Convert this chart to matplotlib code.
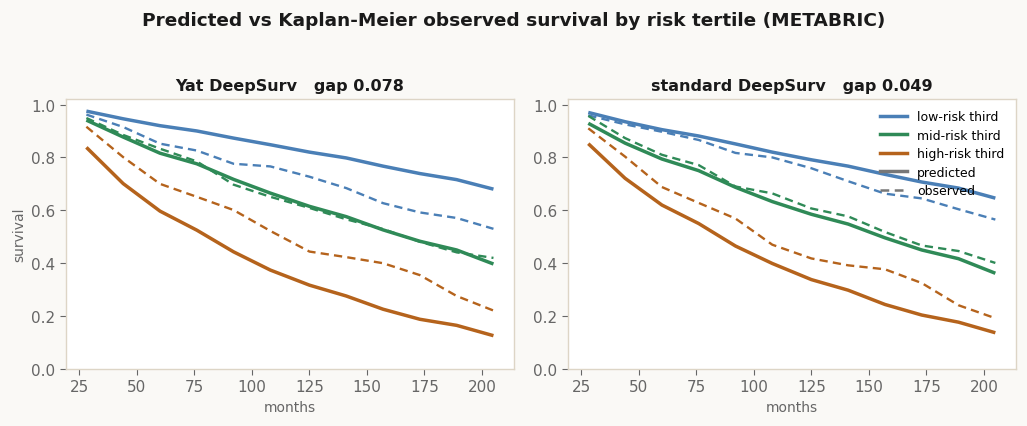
import matplotlib
matplotlib.use('Agg')
import matplotlib.pyplot as plt
from matplotlib.lines import Line2D

months = [28, 44, 60, 76, 92, 108, 125, 141, 157, 173, 189, 205]

# Yat DeepSurv
yat_low_pred = [0.975, 0.946, 0.92, 0.900, 0.873, 0.848, 0.820, 0.798, 0.767, 0.739, 0.716, 0.680]
yat_low_obs = [0.962, 0.915, 0.852, 0.826, 0.776, 0.766, 0.727, 0.684, 0.627, 0.592, 0.571, 0.530]
yat_mid_pred = [0.941, 0.877, 0.816, 0.776, 0.717, 0.665, 0.615, 0.576, 0.526, 0.483, 0.450, 0.397]
yat_mid_obs = [0.949, 0.885, 0.833, 0.785, 0.697, 0.651, 0.609, 0.566, 0.529, 0.481, 0.441, 0.420]
yat_high_pred = [0.838, 0.701, 0.597, 0.525, 0.443, 0.374, 0.317, 0.276, 0.226, 0.188, 0.165, 0.126]
yat_high_obs = [0.916, 0.801, 0.700, 0.651, 0.601, 0.522, 0.444, 0.423, 0.400, 0.355, 0.276, 0.221]

# standard DeepSurv
std_low_pred = [0.970, 0.935, 0.905, 0.881, 0.851, 0.820, 0.791, 0.767, 0.736, 0.707, 0.684, 0.646]
std_low_obs = [0.959, 0.925, 0.897, 0.866, 0.817, 0.800, 0.759, 0.710, 0.663, 0.645, 0.604, 0.565]
std_mid_pred = [0.929, 0.854, 0.794, 0.750, 0.687, 0.633, 0.585, 0.548, 0.496, 0.450, 0.417, 0.362]
std_mid_obs = [0.957, 0.873, 0.810, 0.771, 0.690, 0.664, 0.607, 0.577, 0.518, 0.467, 0.446, 0.401]
std_high_pred = [0.852, 0.721, 0.620, 0.550, 0.465, 0.399, 0.338, 0.298, 0.244, 0.204, 0.177, 0.137]
std_high_obs = [0.910, 0.803, 0.688, 0.628, 0.569, 0.470, 0.418, 0.392, 0.377, 0.325, 0.241, 0.192]

panels = [
    ('Yat DeepSurv   gap 0.078',
     [(yat_low_pred, yat_low_obs), (yat_mid_pred, yat_mid_obs), (yat_high_pred, yat_high_obs)]),
    ('standard DeepSurv   gap 0.049',
     [(std_low_pred, std_low_obs), (std_mid_pred, std_mid_obs), (std_high_pred, std_high_obs)]),
]
tertiles = ['low-risk third', 'mid-risk third', 'high-risk third']
colors = ['#4a7fb6', '#2f8a57', '#b5631c']

bg = '#faf9f6'
spine_c = '#ddd5c6'
text_c = '#666666'

fig = plt.figure(figsize=(10.27, 4.27), dpi=100, facecolor=bg)
axes = [fig.add_axes([0.0643, 0.1335, 0.436, 0.633]),
        fig.add_axes([0.553, 0.1335, 0.436, 0.633])]

for ax, (title, series) in zip(axes, panels):
    ax.set_facecolor('white')
    for (pred, obs), c in zip(series, colors):
        ax.plot(months, pred, color=c, lw=2.5, solid_capstyle='butt')
        ax.plot(months, obs, color=c, lw=1.7, ls=(0, (3.5, 2.2)))
    ax.set_ylim(0, 1.022)
    ax.set_yticks([0, 0.2, 0.4, 0.6, 0.8, 1.0])
    ax.set_xticks([25, 50, 75, 100, 125, 150, 175, 200])
    ax.set_title(title, fontsize=11.5, fontweight='bold', color='#1a1a1a', pad=6)
    ax.set_xlabel('months', fontsize=10, color=text_c)
    for s in ax.spines.values():
        s.set_color(spine_c)
        s.set_linewidth(1.0)
    ax.tick_params(colors=text_c, labelsize=11, length=4, width=0.8)

axes[0].set_ylabel('survival', fontsize=10, color=text_c)

handles = [Line2D([], [], color=c, lw=2.5) for c in colors]
handles += [Line2D([], [], color='#777777', lw=2.5),
            Line2D([], [], color='#777777', lw=1.8, ls=(0, (3.5, 2.2)))]
labels = tertiles + ['predicted', 'observed']
axes[1].legend(handles, labels, loc='upper right', frameon=False, fontsize=9,
               handlelength=2.2, labelspacing=0.45, borderaxespad=0.5)

fig.suptitle('Predicted vs Kaplan-Meier observed survival by risk tertile (METABRIC)',
             fontsize=13.3, fontweight='bold', color='#1a1a1a', y=0.972)

fig.savefig('out.png', dpi=100, facecolor=bg)
